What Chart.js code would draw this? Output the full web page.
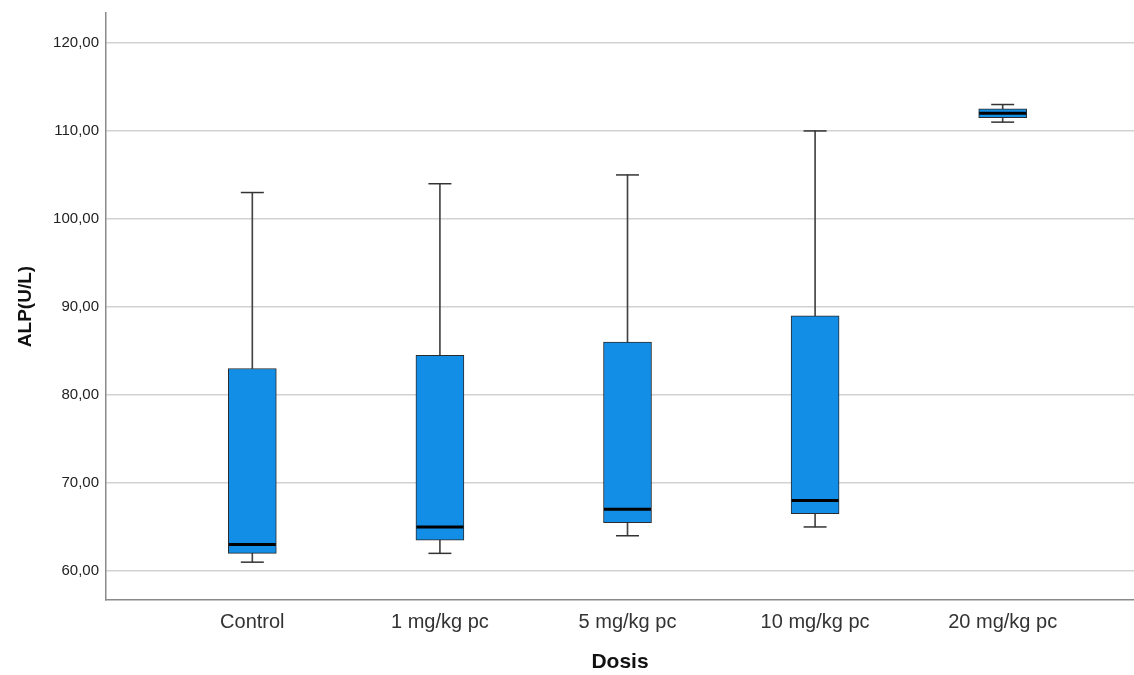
<!DOCTYPE html>
<html>
<head>
<meta charset="utf-8">
<title>ALP(U/L) por dosis</title>
<script src="https://cdn.jsdelivr.net/npm/chart.js@4.4.1/dist/chart.umd.min.js"></script>
<style>
    html, body { margin: 0; padding: 0; background: #ffffff; }
    #wrap { width: 1134px; height: 675px; }
</style>
</head>
<body>
<div id="wrap"><canvas id="alpChart" width="1134" height="675"></canvas></div>
<script>
// Box plot values (ALP, U/L)
const categories = ["Control", "1 mg/kg pc", "5 mg/kg pc", "10 mg/kg pc", "20 mg/kg pc"];
const whiskerLow = [61, 62, 64, 65, 111];
const q1 = [62, 63.5, 65.5, 66.5, 111.5];
const median = [63, 65, 67, 68, 112];
const q3 = [83, 84.5, 86, 89, 112.5];
const whiskerHigh = [103, 104, 105, 110, 113];
const yTicks = [60, 70, 80, 90, 100, 110, 120];

document.addEventListener("DOMContentLoaded", function () {
    const ctx = document.getElementById("alpChart").getContext("2d");
    const FONT = "'Liberation Sans', Arial, sans-serif";
    const boxBlue = "#128ee6";

    // one point per category at x = 1..n
    function points(values) {
        return values.map((v, i) => ({ x: i + 1, y: v }));
    }

    function ranges(lows, highs) {
        return lows.map((v, i) => ({ x: i + 1, y: [v, highs[i]] }));
    }

    function markDataset(values, radius, width, color) {
        return {
            type: "line",
            data: points(values),
            showLine: false,
            pointStyle: "line",
            pointRadius: radius,
            pointHoverRadius: radius,
            pointBorderWidth: width,
            pointBorderColor: color,
            borderColor: color
        };
    }

    function whiskerDataset(lows, highs) {
        return {
            type: "bar",
            data: ranges(lows, highs),
            grouped: false,
            barThickness: 1,
            backgroundColor: "#444444",
            borderWidth: 0
        };
    }

    // no extra room for half labels at the ends of the axes
    function noEdgePadding(s) {
        s.paddingLeft = 0;
        s.paddingRight = 0;
        s.paddingTop = 0;
        s.paddingBottom = 0;
    }

    new Chart(ctx, {
        type: "bar",
        data: {
            datasets: [
                markDataset(median, 23.5, 3, "#000000"),
                {
                    type: "bar",
                    data: ranges(q1, q3),
                    grouped: false,
                    barThickness: 48,
                    backgroundColor: boxBlue,
                    borderColor: "#2b2b2b",
                    borderWidth: 1,
                    borderSkipped: false
                },
                markDataset(whiskerHigh, 11.5, 1.5, "#333333"),
                markDataset(whiskerLow, 11.5, 1.5, "#333333"),
                whiskerDataset(q3, whiskerHigh),
                whiskerDataset(whiskerLow, q1)
            ]
        },
        options: {
            responsive: false,
            animation: false,
            events: [],
            layout: { autoPadding: false, padding: { top: 13, right: 0, bottom: 0, left: 0 } },
            plugins: { legend: { display: false }, tooltip: { enabled: false } },
            scales: {
                x: {
                    type: "linear",
                    offset: false,
                    min: 0.22,
                    max: 5.7,
                    afterBuildTicks: s => { s.ticks = categories.map((c, i) => ({ value: i + 1 })); },
                    afterFit: s => { s.height = 75; noEdgePadding(s); },
                    grid: { display: false, drawTicks: false },
                    border: { display: true, color: "#8a8a8a", width: 1.5 },
                    ticks: {
                        padding: 10,
                        color: "#333333",
                        font: { family: FONT, size: 20 },
                        maxRotation: 0,
                        callback: v => categories[v - 1]
                    },
                    title: {
                        display: true,
                        text: "Dosis",
                        color: "#111111",
                        font: { family: FONT, size: 21, weight: "bold", lineHeight: 1 },
                        padding: { top: 0, bottom: 2 }
                    }
                },
                y: {
                    min: 56.7,
                    max: 123.4,
                    afterBuildTicks: s => { s.ticks = yTicks.map(v => ({ value: v })); },
                    afterFit: s => { s.width = 106; noEdgePadding(s); },
                    grid: { color: "#d2d2d2", lineWidth: 1.5, drawTicks: false },
                    border: { display: true, color: "#8a8a8a", width: 1.5 },
                    ticks: {
                        padding: 7,
                        color: "#222222",
                        font: { family: FONT, size: 15 },
                        callback: v => v.toFixed(2).replace(".", ",")
                    },
                    title: {
                        display: true,
                        text: "ALP(U/L)",
                        color: "#111111",
                        font: { family: FONT, size: 19, weight: "bold", lineHeight: 1.2 },
                        padding: { top: 14, bottom: 0 }
                    }
                }
            }
        }
    });
});
</script>
</body>
</html>
